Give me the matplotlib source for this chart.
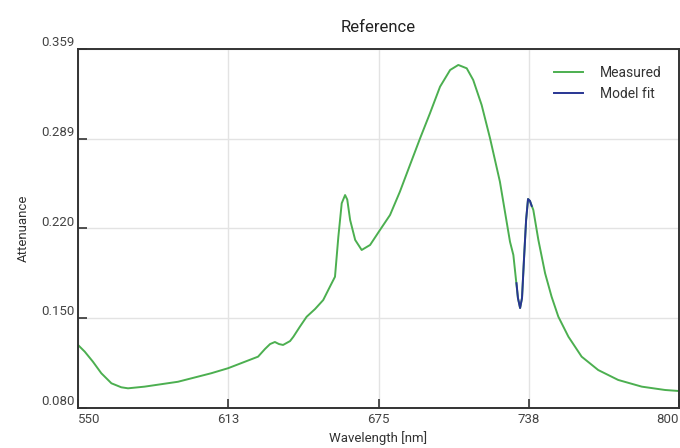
import matplotlib
matplotlib.use("Agg")
import matplotlib.pyplot as plt  # type: ignore
import numpy as np  # type: ignore

plt.rcParams["font.family"] = ["Roboto", "DejaVu Sans"]

# Spectrum (wavelength in nm, attenuance)
wavelength = [
    550.0, 552.8, 556.2, 559.7, 563.9, 568.0, 570.8, 577.7, 591.6, 605.4,
    612.4, 624.9, 627.8, 629.9, 631.9, 633.6, 635.3, 638.2, 639.6, 642.3,
    645.1, 648.6, 652.0, 654.8, 656.9, 658.3, 659.7, 661.1, 662.0, 663.2,
    665.3, 668.0, 671.5, 675.6, 679.8, 683.9, 688.1, 692.3, 696.4, 700.6,
    704.8, 708.2, 711.7, 714.4, 717.9, 721.4, 725.5, 729.7, 731.1, 732.2,
    733.0, 733.9, 734.7, 735.5, 736.4, 737.2, 738.0, 739.4, 741.5, 744.3,
    747.0, 749.8, 754.0, 759.5, 766.4, 774.7, 784.5, 794.2, 800.0,
]
measured = [
    0.1290, 0.1238, 0.1160, 0.1070, 0.0992, 0.0961, 0.0953, 0.0966, 0.1004, 0.1070,
    0.1109, 0.1199, 0.1259, 0.1297, 0.1313, 0.1297, 0.1290, 0.1320, 0.1354, 0.1432,
    0.1509, 0.1569, 0.1639, 0.1743, 0.1820, 0.2131, 0.2391, 0.2455, 0.2420, 0.2261,
    0.2106, 0.2028, 0.2067, 0.2183, 0.2300, 0.2481, 0.2689, 0.2896, 0.3090, 0.3297,
    0.3427, 0.3466, 0.3440, 0.3349, 0.3155, 0.2896, 0.2559, 0.2092, 0.1989, 0.1795,
    0.1655, 0.1577, 0.1655, 0.1950, 0.2261, 0.2424, 0.2409, 0.2339, 0.2106, 0.1847,
    0.1665, 0.1510, 0.1354, 0.1199, 0.1095, 0.1018, 0.0966, 0.0940, 0.0932,
]

# Model fit over the 735 nm band
fit_wavelength = [732.4, 733.0, 733.9, 734.7, 735.5, 736.4, 737.2, 738.0, 738.7]
fit_values = [0.1770, 0.1655, 0.1577, 0.1655, 0.1950, 0.2261, 0.2424, 0.2409, 0.2370]

x_ticks = [550, 612.5, 675, 737.5, 800]
x_tick_labels = ["550", "613", "675", "738", "800"]
y_ticks = [0.080, 0.14975, 0.2195, 0.28925, 0.359]
y_tick_labels = ["0.080", "0.150", "0.220", "0.289", "0.359"]

fig = plt.figure(figsize=(6.8, 4.48), dpi=100)
ax = fig.add_axes([78 / 680, 40 / 448, 601 / 680, 359 / 448])

ax.plot(wavelength, measured, color="#4caf50", linewidth=1.4, label="Measured")
ax.plot(fit_wavelength, fit_values, color="#283593", linewidth=1.4, label="Model fit")

ax.set_xlim(550, 800)
ax.set_ylim(0.080, 0.359)
ax.set_xticks(x_ticks)
ax.set_xticklabels(x_tick_labels)
ax.set_yticks(y_ticks)
ax.set_yticklabels(y_tick_labels)

# end labels sit inside the axis span, y labels sit on top of their tick
xl = ax.get_xticklabels()
xl[0].set_ha("left")
xl[-1].set_ha("right")
for lab in ax.get_yticklabels():
    lab.set_va("bottom")

ax.grid(True, color="#e3e3e3", linewidth=1.0)
ax.set_axisbelow(True)
for s in ax.spines.values():
    s.set_color("#333333")
    s.set_linewidth(1.4)
ax.tick_params(direction="in", length=6.5, width=1.2, color="#333333",
               labelcolor="#444444", labelsize=9.5)
ax.tick_params(axis="x", pad=3.5)
ax.tick_params(axis="y", pad=2.5)

ax.set_title("Reference", fontsize=12, color="#222222", pad=12)
ax.set_xlabel("Wavelength [nm]", fontsize=9.5, color="#333333", labelpad=4)
ax.set_ylabel("Attenuance", fontsize=9.5, color="#333333", labelpad=8)

ax.legend(loc="upper right", frameon=False, fontsize=10, handlelength=2.1,
          handletextpad=1.2, labelcolor="#333333", borderaxespad=0.85)

fig.savefig("out.png", dpi=100)
